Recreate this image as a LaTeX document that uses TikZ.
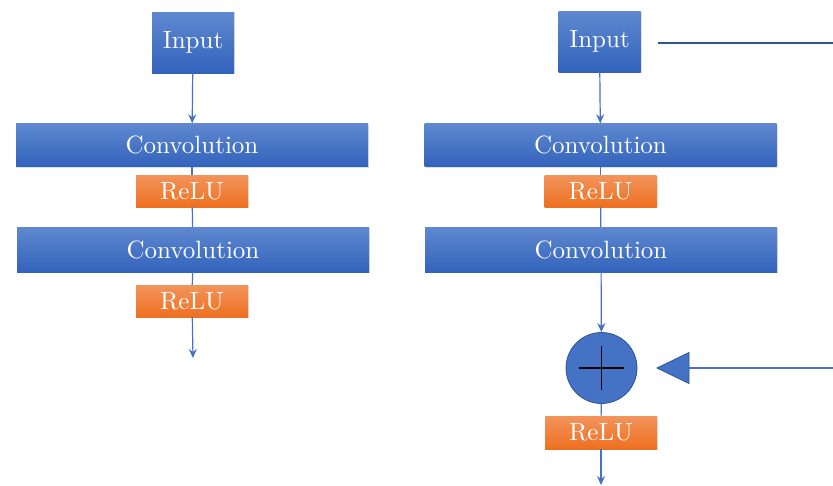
\documentclass[tikz,border=0pt]{standalone}
\usetikzlibrary{arrows.meta,shadows}

\definecolor{convtop}{HTML}{5F88CF}
\definecolor{convbot}{HTML}{3263BC}
\definecolor{relutop}{HTML}{F2945C}
\definecolor{relubot}{HTML}{EE7020}
\definecolor{lineblue}{HTML}{4472C4}
\definecolor{darkblue}{HTML}{2F5597}

\newcommand{\boxtext}[1]{\scalebox{2.5}{#1}}

\tikzset{
	blk/.style={inner sep=0pt, text=white,
		drop shadow={opacity=0.25, shadow xshift=1.2pt, shadow yshift=-1.2pt}},
	inbox/.style={blk, top color=convtop, bottom color=convbot, minimum width=82, minimum height=61},
	convbox/.style={blk, top color=convtop, bottom color=convbot, minimum width=352, minimum height=43},
	relubox/.style={blk, top color=relutop, bottom color=relubot, minimum width=112, minimum height=32},
	flow/.style={draw=lineblue, line width=1.2pt, -{Stealth[length=9pt,width=8pt]}},
	link/.style={draw=lineblue, line width=1.2pt},
}

\begin{document}
\begin{tikzpicture}[x=1pt,y=-1pt]
\useasboundingbox (0,0) rectangle (833,485);

% plain block
\node[inbox] (inA) at (193,42.5) {\boxtext{Input}};
\node[convbox] (convA1) at (192,145) {\boxtext{Convolution}};
\node[relubox] (reluA1) at (192,191) {\boxtext{ReLU}};
\node[convbox, minimum height=45] (convA2) at (193,249.5) {\boxtext{Convolution}};
\node[relubox] (reluA2) at (192,301) {\boxtext{ReLU}};
\coordinate (outA) at (193,358);

\draw[flow] (inA) -- (convA1);
\draw[link] (convA1) -- (reluA1);
\draw[link] (reluA1) -- (convA2);
\draw[link] (convA2) -- (reluA2);
\draw[flow] (reluA2) -- (outA);

% residual block
\node[inbox] (inB) at (599.5,41.5) {\boxtext{Input}};
\node[convbox] (convB1) at (600.5,145) {\boxtext{Convolution}};
\node[relubox] (reluB1) at (600.5,191) {\boxtext{ReLU}};
\node[convbox, minimum height=45] (convB2) at (601,249.5) {\boxtext{Convolution}};
\node[circle, draw=darkblue, fill=lineblue, line width=0.8pt, minimum size=71] (sumB) at (601.5,368) {};
\node[relubox, minimum height=33] (reluB2) at (601,432.5) {\boxtext{ReLU}};
\coordinate (outB) at (601,485);

\draw[line width=1.8pt] ([xshift=13pt]sumB.west) -- ([xshift=-13pt]sumB.east);
\draw[line width=1.8pt] ([yshift=-14pt]sumB.north) -- ([yshift=14pt]sumB.south);

\draw[flow] (inB) -- (convB1);
\draw[link] (convB1) -- (reluB1);
\draw[link] (reluB1) -- (convB2);
\draw[flow] (convB2) -- (sumB);
\draw[link] (sumB) -- (reluB2);
\draw[flow] (reluB2) -- (outB);

% skip path
\coordinate (skipA) at (658,43);
\coordinate (skipB) at (833,43);
\coordinate (skipC) at (833,368);
\coordinate (skipD) at (689,368);
\draw[draw=darkblue, line width=1.4pt] (skipA) -- (skipB);
\draw[link] (skipC) -- (skipD);
\draw[draw=darkblue, fill=lineblue, line width=0.8pt] (657,368) -- (689,352.5) -- (689,383.5) -- cycle;

\end{tikzpicture}
\end{document}
